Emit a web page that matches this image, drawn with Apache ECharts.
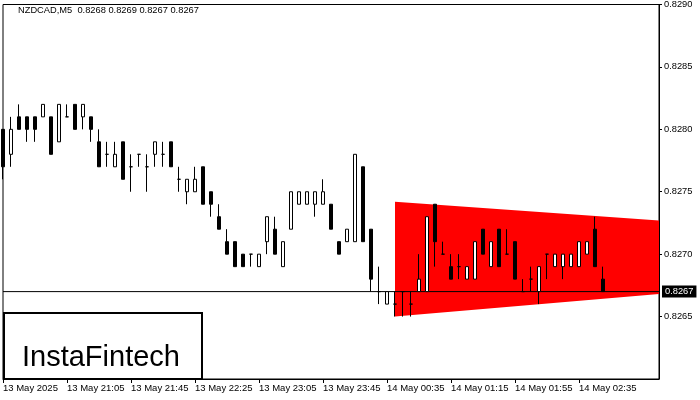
<!DOCTYPE html>
<html>
<head>
<meta charset="utf-8">
<script src="https://cdn.jsdelivr.net/npm/echarts@6/dist/echarts.min.js"></script>
<style>html,body{margin:0;padding:0;background:#fff;}#c{width:700px;height:400px;}</style>
</head>
<body>
<div id="c"></div>
<script>
// NZDCAD M5 bars (index 0 = 13 May 20:25)
var opens  = [0.8280,0.8278,0.8281,0.8281,0.8281,0.8281,0.8281,0.8279,0.8281,0.8282,
              0.8281,0.8281,0.8279,0.8278,0.8277,0.8279,0.8277,0.8278,0.8277,0.8278,
              0.8278,0.8279,0.8276,0.8275,0.8275,0.8277,0.8275,0.8273,0.8271,0.8271,
              0.8270,0.8270,0.8269,0.8271,0.8272,0.8269,0.8272,0.8274,0.8274,0.8274,
              0.8274,0.8274,0.8271,0.8271,0.8271,0.8277,0.8272,0.8267,0.8266,0.8266,
              0.8267,0.8266,0.8267,0.8267,0.8274,0.8270,0.8269,0.8269,0.8268,0.8268,
              0.8272,0.8269,0.8272,0.8270,0.8271,0.8267,0.8268,0.8267,0.8270,0.8269,
              0.8269,0.8269,0.8269,0.8270,0.8272,0.8268];
var closes = [0.8277,0.8280,0.8280,0.8280,0.8280,0.8282,0.8278,0.8282,0.8281,0.8280,
              0.8282,0.8280,0.8277,0.8278,0.8278,0.8276,0.8277,0.8278,0.8277,0.8279,
              0.8278,0.8277,0.8276,0.8276,0.8276,0.8274,0.8274,0.8272,0.8270,0.8269,
              0.8269,0.8270,0.8270,0.8273,0.8270,0.8271,0.8275,0.8275,0.8275,0.8275,
              0.8275,0.8272,0.8270,0.8272,0.8278,0.8271,0.8268,0.8267,0.8267,0.8266,
              0.8267,0.8266,0.8268,0.8273,0.8271,0.8270,0.8268,0.8269,0.8269,0.8271,
              0.8270,0.8271,0.8269,0.8270,0.8268,0.8267,0.8268,0.8269,0.8270,0.8270,
              0.8270,0.8270,0.8271,0.8271,0.8269,0.8267];
var lows   = [0.8276,0.8277,0.8280,0.8279,0.8279,0.8281,0.8278,0.8279,0.8281,0.8280,
              0.8280,0.8279,0.8277,0.8277,0.8277,0.8276,0.8275,0.8277,0.8275,0.8277,
              0.8277,0.8277,0.8275,0.8274,0.8275,0.8274,0.8273,0.8272,0.8270,0.8269,
              0.8269,0.8269,0.8269,0.8270,0.8270,0.8269,0.8272,0.8274,0.8274,0.8273,
              0.8274,0.8272,0.8270,0.8271,0.8271,0.8271,0.8267,0.8266,0.8266,0.8265,
              0.8265,0.8265,0.8267,0.8267,0.8269,0.8270,0.8268,0.8268,0.8268,0.8268,
              0.8270,0.8269,0.8269,0.8270,0.8268,0.8267,0.8267,0.8266,0.8268,0.8269,
              0.8268,0.8269,0.8269,0.8270,0.8269,0.8267];
var highs  = [0.8280,0.8281,0.8282,0.8281,0.8281,0.8282,0.8281,0.8282,0.8282,0.8282,
              0.8282,0.8281,0.8280,0.8279,0.8279,0.8279,0.8278,0.8278,0.8278,0.8279,
              0.8279,0.8279,0.8277,0.8276,0.8277,0.8277,0.8275,0.8274,0.8272,0.8271,
              0.8270,0.8270,0.8270,0.8273,0.8273,0.8271,0.8275,0.8275,0.8275,0.8275,
              0.8276,0.8274,0.8271,0.8272,0.8278,0.8277,0.8272,0.8269,0.8267,0.8267,
              0.8267,0.8267,0.8270,0.8273,0.8274,0.8271,0.8270,0.8270,0.8269,0.8271,
              0.8272,0.8271,0.8272,0.8272,0.8271,0.8268,0.8269,0.8269,0.8270,0.8270,
              0.8270,0.8270,0.8271,0.8271,0.8273,0.8269];
// tick labels shown every 8 bars
var tickLabels = ['13 May 2025','13 May 21:05','13 May 21:45','13 May 22:25','13 May 23:05',
                  '13 May 23:45','14 May 00:35','14 May 01:15','14 May 01:55','14 May 02:35'];
var tickStep = 8;
var emptySlots = 7; // chart shift on the right
// pattern (triangle) corners: bar index and prices
var patternX = [49, 82];
var patternTop = [0.82742, 0.82727];
var patternBottom = [0.82650, 0.82668];
var currentPrice = 0.8267;
var yTicks = [0.8260, 0.8290, 0.0005];

var n = opens.length;
var total = n + emptySlots;
var categories = [];
for (var i = 0; i < total; i++) categories.push(String(i));
var ohlc = [];
for (var j = 0; j < n; j++) ohlc.push([opens[j], closes[j], lows[j], highs[j]]);
var last = n - 1;
var titleText = 'NZDCAD,M5  ' + [opens[last], highs[last], lows[last], closes[last]].map(function(v){return v.toFixed(4);}).join(' ');

function showTick(idx) { return idx % tickStep === 0 && idx / tickStep < tickLabels.length; }

var chart = echarts.init(document.getElementById('c'), null, {renderer: 'canvas'});
chart.setOption({
  animation: false,
  backgroundColor: '#fff',
  title: {
    text: titleText, left: 18, top: 6, padding: 0,
    textStyle: {fontFamily: 'Liberation Sans', fontSize: 9.3, fontWeight: 'normal', color: '#000'}
  },
  grid: {left: 3, right: 41, top: 3, bottom: 21, show: true, borderColor: '#000', borderWidth: 1, backgroundColor: '#fff'},
  xAxis: {
    type: 'category', data: categories, boundaryGap: false,
    axisLine: {show: true, lineStyle: {color: '#000', width: 1}},
    axisTick: {show: true, length: 4, interval: function(idx){return showTick(idx);}, lineStyle: {color: '#000'}},
    axisLabel: {
      interval: function(idx){return showTick(idx);},
      formatter: function(val, idx){ return showTick(idx) ? tickLabels[idx / tickStep] : ''; },
      align: 'left', margin: 4, color: '#000', fontFamily: 'Liberation Sans', fontSize: 9.5
    },
    splitLine: {show: false}
  },
  yAxis: {
    type: 'value', position: 'right', min: yTicks[0], max: yTicks[1], interval: yTicks[2],
    axisLine: {show: true, lineStyle: {color: '#000'}},
    axisTick: {show: true, length: 3, lineStyle: {color: '#000'}},
    axisLabel: {showMinLabel: false, formatter: function(v){return v.toFixed(4);}, margin: 5, color: '#000', fontFamily: 'Liberation Sans', fontSize: 9.3},
    splitLine: {show: false}
  },
  series: [
    {
      type: 'custom', z: 1, silent: true,
      data: [[patternX[0], patternTop[0]]],
      renderItem: function(params, api) {
        var pts = [
          api.coord([patternX[0], patternTop[0]]),
          api.coord([patternX[1], patternTop[1]]),
          api.coord([patternX[1], patternBottom[1]]),
          api.coord([patternX[0], patternBottom[0]])
        ];
        return {type: 'polygon', shape: {points: pts}, style: {fill: '#ff0000', stroke: null}};
      }
    },
    {
      type: 'line', z: 2, silent: true, symbol: 'none',
      data: [[0, currentPrice], [total - 1, currentPrice]],
      lineStyle: {color: '#000', width: 1},
      endLabel: {show: true, distance: 3, formatter: function(p){return currentPrice.toFixed(4);},
                 backgroundColor: '#000', color: '#fff', padding: [2, 3, 1, 3], fontFamily: 'Liberation Sans', fontSize: 9.3}
    },
    {
      type: 'candlestick', z: 3, data: ohlc, barWidth: 4,
      itemStyle: {color: '#ffffff', color0: '#000000', borderColor: '#000000', borderColor0: '#000000', borderWidth: 1}
    }
  ],
  graphic: [
    {type: 'rect', left: 3, top: 312, shape: {width: 198, height: 66}, style: {fill: '#fff', stroke: '#000', lineWidth: 2}, z: 100},
    {type: 'text', left: 22, top: 343, style: {text: 'InstaFintech', fill: '#000', font: '29px "Liberation Sans"'}, z: 101}
  ]
});
</script>
</body>
</html>
